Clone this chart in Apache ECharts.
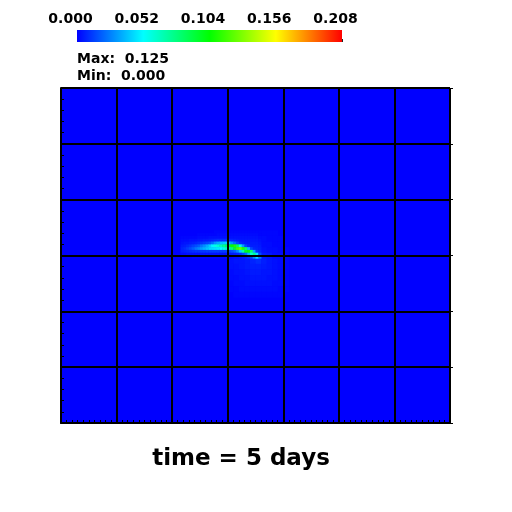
<!DOCTYPE html>
<html><head><meta charset="utf-8">
<script src="https://cdn.jsdelivr.net/npm/echarts@6/dist/echarts.min.js"></script>
<style>html,body{margin:0;padding:0;background:#fff}#c{width:512px;height:512px}</style>
</head><body><div id="c"></div>
<script>
// colour bar
const colorTicks = [0.000, 0.052, 0.104, 0.156, 0.208];
const colorScale = ['#0000ff', '#00ffff', '#00ff00', '#ffff00', '#ff0000'];
const statMax = 0.125;
const statMin = 0.000;
const titleText = 'time = 5 days';

// field domain (mesh blocks)
const xBlocks = [0, 7];
const yBlocks = [0, 6];

// streak samples: column centres (x), row centres (y, top to bottom), values in thousandths
const streakX = [2.175, 2.225, 2.275, 2.325, 2.375, 2.425, 2.475, 2.525, 2.575, 2.625,
                 2.675, 2.725, 2.775, 2.825, 2.875, 2.925, 2.975, 3.025, 3.075, 3.125,
                 3.175, 3.225, 3.275, 3.325, 3.375, 3.425, 3.475, 3.525, 3.575];
const streakY = [3.425, 3.375, 3.325, 3.275, 3.225, 3.175, 3.125, 3.075, 3.025, 2.975];
const streakValues = [
  [0,0,0,0,0,0,0,0,0,0,0,0,1,1,1,1,1,1,1,1,1,1,1,1,1,1,1,1,1],
  [0,0,0,0,0,0,1,1,1,1,1,1,1,2,2,2,2,2,2,2,2,2,2,2,2,2,2,2,1],
  [1,1,1,1,1,1,2,2,2,2,3,3,3,3,3,3,3,3,3,3,3,3,3,3,3,3,3,3,2],
  [2,2,2,3,3,3,4,4,5,5,6,7,8,9,9,9,9,8,7,6,5,4,4,4,4,4,4,4,3],
  [3,4,4,5,6,7,9,10,12,14,17,22,30,35,40,42,42,38,30,22,14,8,6,5,5,5,5,5,4],
  [5,6,8,10,13,16,19,24,29,35,42,50,57,62,68,75,84,95,105,110,85,58,32,14,8,6,6,6,5],
  [7,9,12,15,19,24,28,32,36,40,44,45,46,48,52,58,65,72,80,95,118,125,112,82,38,14,8,7,6],
  [5,6,7,8,9,10,10,11,11,12,12,12,12,12,12,12,13,14,16,20,28,42,70,98,102,82,34,10,7],
  [2,2,3,3,3,3,3,4,4,4,4,4,4,4,4,4,4,5,5,6,7,9,14,22,38,60,74,48,15],
  [0,0,0,0,1,1,1,1,1,1,1,1,1,1,1,1,2,2,2,3,3,4,5,7,10,14,28,46,26]
];

// faint glow around the streak tip: column centres, row centres (top to bottom), thousandths (null = covered by streak)
const fanX = [3.05, 3.15, 3.25, 3.35, 3.45, 3.55, 3.65, 3.75, 3.85, 3.95, 4.05, 4.15];
const fanY = [3.4, 3.3, 3.2, 3.1, 3.0, 2.9, 2.8, 2.7, 2.6, 2.5, 2.4, 2.3];
const fanValues = [
  [null,null,null,null,null,null, 1,1,1,0,0,0],
  [null,null,null,null,null,null, 2,1,1,1,0,0],
  [null,null,null,null,null,null, 2,2,1,1,0,0],
  [null,null,null,null,null,null, 3,2,2,1,1,0],
  [null,null,null,null,null,null, 5,4,2,2,1,0],
  [3,4,4,5,7,9,6,4,3,2,1,0],
  [3,3,4,5,6,6,5,4,3,2,1,0],
  [2,3,3,4,5,5,4,4,3,2,1,0],
  [2,2,3,3,4,4,4,3,3,2,1,0],
  [1,2,2,3,3,3,3,3,2,2,1,0],
  [1,1,2,2,2,2,2,2,2,1,1,0],
  [0,1,1,1,1,1,1,1,1,1,0,0]
];

function toCells(xs, ys, vals) {
  const out = [];
  vals.forEach((row, r) => row.forEach((v, c) => {
    if (v != null && v > 0) out.push([xs[c], ys[r], v / 1000]);
  }));
  return out;
}
function cellRenderer(xs, ys) {
  const dx = Math.abs(xs[1] - xs[0]);
  const dy = Math.abs(ys[1] - ys[0]);
  return function (params, api) {
    const x = api.value(0), y = api.value(1);
    const p0 = api.coord([x - dx / 2, y + dy / 2]);
    const p1 = api.coord([x + dx / 2, y - dy / 2]);
    return {
      type: 'rect',
      shape: { x: p0[0], y: p0[1], width: p1[0] - p0[0] + 0.4, height: p1[1] - p0[1] + 0.4 },
      style: { fill: api.visual('color') }
    };
  };
}

const chart = echarts.init(document.getElementById('c'), null, { renderer: 'canvas' });
const FONT = 'DejaVu Sans';
const cmin = colorTicks[0], cmax = colorTicks[colorTicks.length - 1];

chart.setOption({
  backgroundColor: '#ffffff',
  animation: false,
  grid: [
    { left: 61, top: 88, width: 389, height: 335, show: true, backgroundColor: '#0000ff', borderWidth: 0 },
    { left: 77, top: 30, width: 265, height: 12, show: false }
  ],
  visualMap: {
    type: 'continuous', show: false, min: cmin, max: cmax, dimension: 2,
    seriesIndex: [0, 1], inRange: { color: colorScale }
  },
  xAxis: [
    {
      gridIndex: 0, type: 'value', min: xBlocks[0], max: xBlocks[1], interval: 1, z: 5,
      axisLine: { show: true, lineStyle: { color: '#000', width: 2 } },
      axisTick: { show: true, inside: true, length: 4, lineStyle: { color: '#000' } },
      minorTick: { show: true, splitNumber: 10, length: 3, lineStyle: { color: '#000' } },
      axisLabel: { show: false },
      splitLine: { show: true, lineStyle: { color: '#000', width: 2 } }
    },
    {
      gridIndex: 1, type: 'value', min: cmin, max: cmax, interval: colorTicks[1] - colorTicks[0],
      position: 'top',
      axisLine: { show: false },
      axisTick: { show: true, inside: false, length: 3, lineStyle: { color: '#222' } },
      axisLabel: {
        show: true, margin: 4, fontFamily: FONT, fontSize: 14, fontWeight: 'bold', color: '#000',
        padding: [0, 13, 0, 0],
        formatter: v => v.toFixed(3)
      },
      splitLine: { show: false }
    }
  ],
  yAxis: [
    {
      gridIndex: 0, type: 'value', min: yBlocks[0], max: yBlocks[1], interval: 1, z: 5,
      axisLine: { show: true, lineStyle: { color: '#000', width: 2 } },
      axisTick: { show: true, inside: true, length: 4, lineStyle: { color: '#000' } },
      minorTick: { show: true, splitNumber: 5, length: 3, lineStyle: { color: '#000' } },
      axisLabel: { show: false },
      splitLine: { show: true, lineStyle: { color: '#000', width: 2 } }
    },
    {
      gridIndex: 0, type: 'value', min: yBlocks[0], max: yBlocks[1], interval: 1, position: 'right', z: 5,
      axisLine: { show: false },
      axisTick: { show: true, inside: false, length: 3, lineStyle: { color: '#000' } },
      axisLabel: { show: false },
      splitLine: { show: false }
    },
    { gridIndex: 1, type: 'value', min: 0, max: 1, show: false }
  ],
  series: [
    {
      type: 'custom', xAxisIndex: 0, yAxisIndex: 0, clip: true,
      renderItem: cellRenderer(fanX, fanY), data: toCells(fanX, fanY, fanValues),
      encode: { x: 0, y: 1 }
    },
    {
      type: 'custom', xAxisIndex: 0, yAxisIndex: 0, clip: true,
      renderItem: cellRenderer(streakX, streakY), data: toCells(streakX, streakY, streakValues),
      encode: { x: 0, y: 1 }
    },
    {
      type: 'custom', xAxisIndex: 1, yAxisIndex: 2,
      data: [[cmin, cmax]],
      encode: { x: [0, 1] },
      renderItem: function (params, api) {
        const p0 = api.coord([api.value(0), 1]);
        const p1 = api.coord([api.value(1), 0]);
        const stops = colorScale.map((c, i) => ({ offset: i / (colorScale.length - 1), color: c }));
        return {
          type: 'rect',
          shape: { x: p0[0], y: p0[1], width: p1[0] - p0[0], height: p1[1] - p0[1] },
          style: { fill: new echarts.graphic.LinearGradient(0, 0, 1, 0, stops) }
        };
      }
    }
  ],
  graphic: [
    { type: 'text', left: 77, top: 52, style: { text: 'Max:  ' + statMax.toFixed(3), font: 'bold 14px "DejaVu Sans"', fill: '#000' } },
    { type: 'text', left: 77, top: 69, style: { text: 'Min:  ' + statMin.toFixed(3), font: 'bold 14px "DejaVu Sans"', fill: '#000' } },
    { type: 'text', x: 241, y: 459, style: { text: titleText, font: 'bold 23px "DejaVu Sans"', fill: '#000', align: 'center', verticalAlign: 'middle' } }
  ]
});
</script>
</body></html>
